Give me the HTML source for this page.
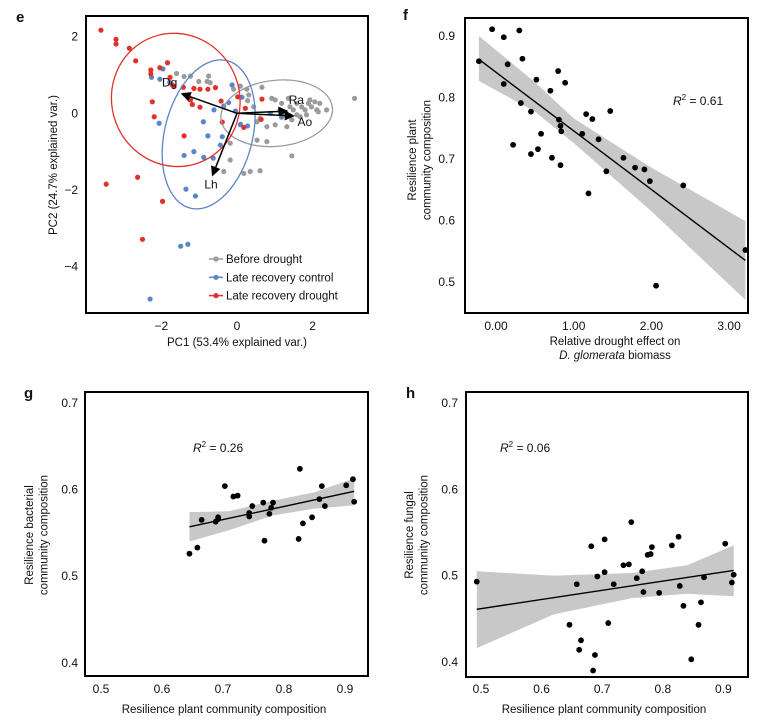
<!DOCTYPE html>
<html><head><meta charset="utf-8"><style>
body{margin:0;background:#fff;}
svg{display:block;font-family:"Liberation Sans",Arial,sans-serif;}
</style></head><body>
<svg id="fig" width="773" height="725" viewBox="0 0 773 725"></svg>
<script>
// ---------- Panel e data (PCA) ----------
const eRedX=[-3.60,-3.20,-3.20,-2.85,-2.68,-1.84,-2.04,-2.28,-2.28,-1.77,-1.71,-1.67,-1.42,-1.14,-0.98,-0.77,-0.57,-1.23,-1.18,-0.98,-2.24,-2.19,-0.42,0.02,0.22,0.66,0.64,0.18,-0.39,-1.40,-3.46,-2.63,-1.97,-2.50];
const eRedY=[2.17,1.93,1.81,1.70,1.37,1.32,1.19,1.13,1.03,0.94,0.74,0.70,0.68,0.65,0.63,0.63,0.67,0.35,0.23,0.16,0.30,-0.09,0.32,0.43,0.13,0.37,-0.16,-0.37,-0.23,-0.59,-1.85,-1.67,-2.30,-3.29];
const eBlueX=[-1.96,-2.26,-2.04,-1.78,-0.61,-0.35,-0.22,-0.13,0.13,-0.04,0.09,0.28,-0.89,-2.06,-0.77,-0.39,-0.44,-1.40,-1.14,-0.88,-0.63,-1.35,-1.10,-1.49,-1.30,-2.30,0.88,1.18];
const eBlueY=[1.16,0.94,0.89,0.81,0.09,0.19,0.28,0.74,0.42,0.06,-0.29,-0.33,-0.22,-0.26,-0.59,-0.61,-0.83,-1.10,-1.00,-1.15,-1.17,-1.98,-2.16,-3.47,-3.42,-4.85,0.00,-0.10];
const eGrayX=[-1.60,-1.23,-1.01,-0.75,-0.79,-0.71,-0.09,0.09,0.26,0.31,0.28,0.66,0.44,0.92,1.01,1.18,1.40,1.36,1.49,1.58,1.71,1.80,1.89,2.06,2.19,2.37,2.15,1.97,1.84,1.67,1.45,1.32,1.01,0.79,0.53,0.09,-0.18,-0.18,-0.35,0.18,0.35,0.61,0.53,0.79,1.45,3.11,0.61,1.14,1.27,2.11,1.58,1.93,-1.40];
const eGrayY=[1.04,0.97,0.83,0.97,0.83,0.80,0.63,0.71,0.63,0.48,0.33,0.68,0.17,0.39,0.35,0.26,0.17,0.39,0.09,0.26,0.17,0.09,0.26,0.30,0.26,0.09,0.04,0.17,-0.04,-0.09,-0.17,-0.35,-0.30,-0.35,-0.22,-0.30,-0.78,-1.22,-1.52,-1.57,-1.52,-1.50,-0.70,-0.74,-1.11,0.39,-0.13,0.09,-0.04,0.09,-0.04,0.35,0.96];
const eArrowNames=["Dg","Ra","Ao","Lh"];
const eArrowX=[-1.49,1.36,1.53,-0.66];
const eArrowY=[0.52,0.06,-0.07,-1.65];
const eTicksX=[-2,0,2];
const eTicksY=[2,0,-2,-4];
// ---------- Panel f ----------
const fX=[-0.22,-0.05,0.10,0.10,0.15,0.22,0.30,0.32,0.34,0.45,0.45,0.52,0.54,0.58,0.70,0.72,0.80,0.81,0.83,0.84,0.83,0.89,1.11,1.16,1.19,1.24,1.32,1.42,1.47,1.64,1.79,1.91,1.98,2.06,2.41,3.21];
const fY=[0.859,0.911,0.898,0.822,0.854,0.723,0.909,0.791,0.863,0.777,0.708,0.829,0.716,0.741,0.811,0.702,0.843,0.764,0.754,0.745,0.690,0.824,0.741,0.773,0.644,0.765,0.732,0.680,0.778,0.702,0.686,0.683,0.664,0.494,0.657,0.552];
const fLineX=[-0.22,3.21], fLineY=[0.862,0.535];
const fBandX=[-0.22,0.5,1.0,2.0,3.21], fBandLo=[0.827,0.777,0.726,0.615,0.471], fBandHi=[0.900,0.825,0.766,0.686,0.599];
const fTicksX=["0.00","1.00","2.00","3.00"], fTicksY=[0.9,0.8,0.7,0.6,0.5];
// ---------- Panel g ----------
const gX=[0.645,0.658,0.665,0.688,0.692,0.692,0.703,0.717,0.724,0.743,0.743,0.748,0.766,0.768,0.776,0.779,0.782,0.826,0.824,0.831,0.846,0.858,0.862,0.867,0.902,0.913,0.915];
const gY=[0.526,0.533,0.565,0.563,0.566,0.568,0.604,0.592,0.593,0.573,0.569,0.581,0.585,0.541,0.572,0.579,0.585,0.624,0.543,0.561,0.568,0.589,0.604,0.581,0.605,0.612,0.586];
const gLineX=[0.645,0.915], gLineY=[0.557,0.598];
const gBandX=[0.645,0.71,0.78,0.85,0.915], gBandLo=[0.540,0.553,0.570,0.578,0.582], gBandHi=[0.574,0.575,0.587,0.597,0.613];
// ---------- Panel h ----------
const hX=[0.493,0.658,0.662,0.646,0.665,0.682,0.688,0.685,0.692,0.704,0.704,0.710,0.719,0.735,0.744,0.748,0.757,0.766,0.768,0.775,0.780,0.782,0.794,0.815,0.826,0.828,0.834,0.847,0.859,0.863,0.868,0.903,0.914,0.917];
const hY=[0.493,0.490,0.414,0.443,0.425,0.534,0.408,0.390,0.499,0.542,0.504,0.445,0.490,0.512,0.513,0.562,0.497,0.505,0.481,0.524,0.525,0.533,0.480,0.535,0.545,0.488,0.465,0.403,0.443,0.469,0.498,0.537,0.492,0.501];
const hLineX=[0.493,0.917], hLineY=[0.461,0.506];
const hBandX=[0.493,0.62,0.75,0.84,0.917], hBandLo=[0.416,0.455,0.474,0.479,0.476], hBandHi=[0.505,0.500,0.503,0.512,0.535];
const ghTicksX=[0.5,0.6,0.7,0.8,0.9], ghTicksY=[0.7,0.6,0.5,0.4];

const NS="http://www.w3.org/2000/svg";
const svg=document.getElementById('fig');
function mk(tag,attrs,parent,text){const el=document.createElementNS(NS,tag);for(const k in attrs)el.setAttribute(k,attrs[k]);if(text!==undefined)el.textContent=text;(parent||svg).appendChild(el);return el;}

function txt(parent,x,y,s,opts){const el=mk('text',Object.assign({x:x,y:y,'font-size':12,fill:'#111'},opts||{}),parent,s);return el;}

function panel(name){const g=mk('g',{},svg);return g;}

// ===== Panel e =====
(function(){
 const g=panel('panel-e-pca');
 const sx=x=>237+x*37.8, sy=y=>113.3-y*38.3;
 const lab=txt(g,16,22,'e',{'font-size':15,'font-weight':'bold'});
 eTicksX.forEach(t=>{const el=txt(g,sx(t),330,t<0?'\u2212'+(-t):String(t),{'text-anchor':'middle'});});
 eTicksY.forEach(t=>{const el=txt(g,78,sy(t)+4,t<0?'\u2212'+(-t):String(t),{'text-anchor':'end'});});
 const xt=txt(g,237,346,'PC1 (53.4% explained  var.)',{'text-anchor':'middle','font-size':11.5});
 const yt=txt(g,0,0,'PC2 (24.7% explained  var.)',{'text-anchor':'middle','font-size':11.5,transform:'translate(57,165) rotate(-90)'});
 function pts(X,Y,col,nm){X.forEach((x,i)=>{const c=mk('circle',{cx:sx(x),cy:sy(Y[i]),r:2.6,fill:col},g);});}
 pts(eGrayX,eGrayY,'#9b9b9b','point-before-drought');
 pts(eBlueX,eBlueY,'#5a85c6','point-late-recovery-control');
 pts(eRedX,eRedY,'#e4302a','point-late-recovery-drought');
 let el;
 el=mk('ellipse',{cx:sx(1.05),cy:sy(0),rx:56,ry:33,fill:'none',stroke:'#9b9b9b','stroke-width':1.3,transform:`rotate(-6 ${sx(1.05)} ${sy(0)})`},g);
 el=mk('ellipse',{cx:sx(-0.75),cy:sy(-0.55),rx:44,ry:76,fill:'none',stroke:'#5a85c6','stroke-width':1.3,transform:`rotate(14 ${sx(-0.75)} ${sy(-0.55)})`},g);
 el=mk('ellipse',{cx:sx(-1.62),cy:sy(0.35),rx:64,ry:67,fill:'none',stroke:'#e4302a','stroke-width':1.3,transform:`rotate(-20 ${sx(-1.62)} ${sy(0.35)})`},g);
 const ldx=[-11,8,10,-1], ldy=[-7,-7,10,12];
 eArrowNames.forEach((n,i)=>{
  const x1=sx(0),y1=sy(0),x2=sx(eArrowX[i]),y2=sy(eArrowY[i]);
  const a=Math.atan2(y2-y1,x2-x1),L=10,W=5;
  const bx=x2-L*Math.cos(a),by=y2-L*Math.sin(a);
  const ln=mk('line',{x1:x1,y1:y1,x2:bx,y2:by,stroke:'#000','stroke-width':1.5},g);
  const hd=mk('polygon',{points:`${x2},${y2} ${bx+W*Math.sin(a)},${by-W*Math.cos(a)} ${bx-W*Math.sin(a)},${by+W*Math.cos(a)}`,fill:'#000'},g);
  const t=txt(g,x2+ldx[i],y2+ldy[i],n,{'text-anchor':'middle','font-size':12});
 });
 const leg=[['Before drought','#9b9b9b'],['Late recovery control','#5a85c6'],['Late recovery drought','#e4302a']];
 leg.forEach((l,i)=>{const y=259+i*18.3;
  const lg=mk('g',{},g);
  mk('line',{x1:209,y1:y,x2:223,y2:y,stroke:l[1],'stroke-width':1.5},lg);
  mk('circle',{cx:216,cy:y,r:2.6,fill:l[1]},lg);
  txt(lg,226,y+4,l[0],{'font-size':11.5});});
 const fr=mk('rect',{x:86,y:16,width:282,height:297,fill:'none',stroke:'#000','stroke-width':2},g);
})();

// ===== Regression panels =====
function regPanel(o){
 const g=panel(o.name);
 const sx=o.sx, sy=o.sy;
 const lab=txt(g,o.labX,o.labY,o.label,{'font-size':15,'font-weight':'bold'});
 // band
 let d='M';o.bx.forEach((x,i)=>{d+=(i?' L':'')+sx(x)+' '+sy(o.hi[i]);});
 for(let i=o.bx.length-1;i>=0;i--)d+=' L'+sx(o.bx[i])+' '+sy(o.lo[i]);d+=' Z';
 const b=mk('path',{d:d,fill:'#c8c8c8'},g);
 const ln=mk('line',{x1:sx(o.lx[0]),y1:sy(o.ly[0]),x2:sx(o.lx[1]),y2:sy(o.ly[1]),stroke:'#000','stroke-width':1.4},g);
 o.X.forEach((x,i)=>{const c=mk('circle',{cx:sx(x),cy:sy(o.Y[i]),r:2.9,fill:'#000'},g);});
 o.tx.forEach(t=>{const el=txt(g,sx(parseFloat(t)),o.txY,String(t),{'text-anchor':'middle'});});
 o.ty.forEach(t=>{const el=txt(g,o.tyX,sy(t)+4,t.toFixed(1),{'text-anchor':'end'});});
 const r=mk('text',{x:o.rX,y:o.rY,'font-size':12,fill:'#111'},g);
 mk('tspan',{'font-style':'italic'},r,'R');mk('tspan',{dy:-5,'font-size':8},r,'2');mk('tspan',{dy:5},r,' = '+o.r2);
 const xt=mk('text',{x:o.xtX,y:o.xtY,'text-anchor':'middle','font-size':11.5,fill:'#111'},g);
 o.xTitle(xt);
 o.yTitle.forEach((s,i)=>{const el=txt(g,0,0,s,{'text-anchor':'middle','font-size':11.5,transform:`translate(${o.ytX+i*14.5},${o.ytY}) rotate(-90)`});});
 const fr=mk('rect',{x:o.box[0],y:o.box[1],width:o.box[2],height:o.box[3],fill:'none',stroke:'#000','stroke-width':2},g);
}
regPanel({name:'panel-f-regression',label:'f',labX:403,labY:20,sx:x=>496+x*77.7,sy:y=>36+(0.9-y)*615,
 X:fX,Y:fY,lx:fLineX,ly:fLineY,bx:fBandX,lo:fBandLo,hi:fBandHi,tx:fTicksX,txY:330,ty:fTicksY,tyX:455,
 r2:'0.61',rX:673,rY:105,xtX:615,xtY:345,ytX:416,ytY:160,yTitle:['Resilience plant','community composition'],box:[465,18,283,295],
 xTitle:t=>{mk('tspan',{x:615,dy:0},t,'Relative drought effect on');const s=mk('tspan',{x:615,dy:14},t);mk('tspan',{'font-style':'italic'},s,'D. glomerata');mk('tspan',{},s,' biomass');}});
regPanel({name:'panel-g-regression',label:'g',labX:24,labY:398,sx:x=>101+(x-0.5)*610,sy:y=>403+(0.7-y)*866,
 X:gX,Y:gY,lx:gLineX,ly:gLineY,bx:gBandX,lo:gBandLo,hi:gBandHi,tx:ghTicksX.map(v=>v.toFixed(1)),txY:693,ty:ghTicksY,tyX:78,
 r2:'0.26',rX:193,rY:452,xtX:224,xtY:713,ytX:33,ytY:535,yTitle:['Resilience bacterial','community composition'],box:[85,392,283,284],
 xTitle:t=>{t.textContent='Resilience plant community composition';}});
regPanel({name:'panel-h-regression',label:'h',labX:406,labY:398,sx:x=>481+(x-0.5)*606,sy:y=>403+(0.7-y)*863,
 X:hX,Y:hY,lx:hLineX,ly:hLineY,bx:hBandX,lo:hBandLo,hi:hBandHi,tx:ghTicksX.map(v=>v.toFixed(1)),txY:693,ty:ghTicksY,tyX:458,
 r2:'0.06',rX:500,rY:452,xtX:604,xtY:713,ytX:413,ytY:535,yTitle:['Resilience fungal','community composition'],box:[466,392,282,285],
 xTitle:t=>{t.textContent='Resilience plant community composition';}});
</script>
</body></html>
